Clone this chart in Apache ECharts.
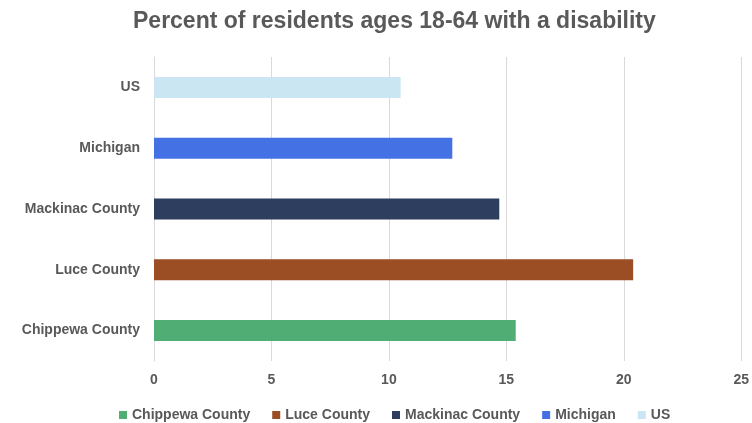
<!DOCTYPE html>
<html>
<head>
<meta charset="utf-8">
<script src="https://cdn.jsdelivr.net/npm/echarts@6/dist/echarts.min.js"></script>
<style>html,body{margin:0;padding:0;background:#fff}#c{width:752px;height:423px}</style>
</head>
<body>
<div id="c"></div>
<script>
var categories = ['Chippewa County', 'Luce County', 'Mackinac County', 'Michigan', 'US'];
var values = [15.4, 20.4, 14.7, 12.7, 10.5];
var colors = ['#50ad74', '#9b4d24', '#2e3e5e', '#4472e4', '#c9e6f2'];
var xTicks = [0, 5, 10, 15, 20, 25];

var FONT = '"Liberation Sans", Arial, sans-serif';
var series = categories.map(function (name, i) {
  var d = categories.map(function (_, j) { return j === i ? values[i] : null; });
  return {
    name: name,
    type: 'bar',
    stack: 'all',
    data: d,
    barWidth: 21,
    itemStyle: { color: colors[i] }
  };
});

var chart = echarts.init(document.getElementById('c'), null, { renderer: 'canvas' });
chart.setOption({
  animation: false,
  title: {
    text: 'Percent of residents ages 18-64 with a disability',
    left: 128,
    top: 5,
    textStyle: { fontFamily: FONT, fontSize: 23, fontWeight: 'bold', color: '#595959' }
  },
  legend: {
    top: 403,
    left: 114,
    itemWidth: 8,
    itemHeight: 8,
    itemGap: 22,
    icon: 'rect',
    textStyle: { fontFamily: FONT, fontSize: 14, color: '#595959', fontWeight: 'bold' },
    data: categories
  },
  grid: { left: 154, right: 7, top: 57, bottom: 62, containLabel: false },
  xAxis: {
    type: 'value',
    min: xTicks[0],
    max: xTicks[xTicks.length - 1],
    interval: 5,
    axisLine: { show: false },
    axisTick: { show: false },
    splitLine: { show: true, lineStyle: { color: '#d9d9d9', width: 1 } },
    axisLabel: { fontFamily: FONT, fontSize: 14, color: '#595959', margin: 12, fontWeight: 'bold' }
  },
  yAxis: {
    type: 'category',
    data: categories,
    axisLine: { show: true, lineStyle: { color: '#d9d9d9' } },
    axisTick: { show: false },
    axisLabel: { fontFamily: FONT, fontSize: 14, color: '#595959', fontWeight: 'bold', margin: 14 }
  },
  series: series
});
</script>
</body>
</html>
